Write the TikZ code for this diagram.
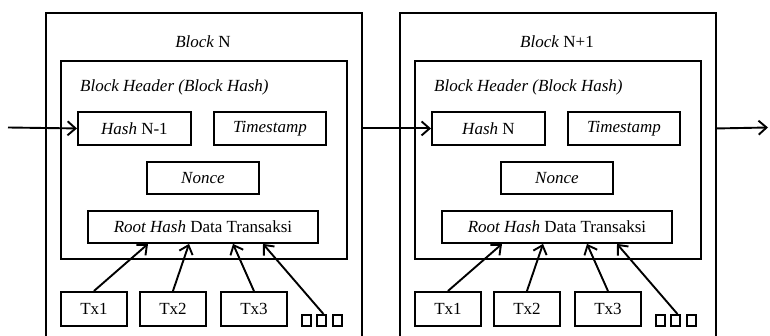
\documentclass[tikz,border=0pt]{standalone}
\usepackage{fontspec}
\setmainfont{Liberation Serif}
\usetikzlibrary{arrows.meta,calc}
\tikzset{
  box/.style={draw, line width=1.9pt, inner sep=0pt, anchor=north west, font=\fontsize{17}{19}\selectfont},
  lbl/.style={inner sep=0pt, font=\fontsize{17}{19}\selectfont},
  arr/.style={line width=1.9pt, -{Straight Barb[length=8pt,width=14pt,line width=1.9pt]}},
  sqbox/.style={draw, line width=1.9pt, minimum width=9pt, minimum height=11pt, inner sep=0pt, anchor=north west},
}
\newcommand\drawchainblock[4]{%
  \begin{scope}[xshift=#2]
    \node[box, minimum width=316, minimum height=340] (#1outer) at (45,12) {};
    \node[lbl] (#1title) at (203,42) {#3};
    \node[box, minimum width=286, minimum height=198] (#1inner) at (60,60) {};
    \node[lbl, anchor=west] (#1hlabel) at (80,87) {\textit{Block Header (Block Hash)}};
    \node[box, minimum width=113, minimum height=33] (#1hash) at (77,111) {#4};
    \node[box, minimum width=112, minimum height=33] (#1time) at (213,111) {\textit{Timestamp}};
    \node[box, minimum width=112, minimum height=32] (#1nonce) at (146,161) {\textit{Nonce}};
    \node[box, minimum width=230, minimum height=32] (#1root) at (87,210) {\textit{Root Hash} Data Transaksi};
    \node[box, minimum width=66, minimum height=34] (#1tx1) at (60,291) {Tx1};
    \node[box, minimum width=66, minimum height=34] (#1tx2) at (139,291) {Tx2};
    \node[box, minimum width=66, minimum height=34] (#1tx3) at (220,291) {Tx3};
    \node[sqbox] (#1sq1) at (301,314) {};
    \node[sqbox] (#1sq2) at (316,314) {};
    \node[sqbox] (#1sq3) at (332,314) {};
    \draw[arr] (#1tx1.north) -- ($(#1root.south west)+(61,0)$);
    \draw[arr] (#1tx2.north) -- ($(#1root.south west)+(102,0)$);
    \draw[arr] (#1tx3.north) -- ($(#1root.south west)+(146,0)$);
    \draw[arr] ($(#1sq2.north)+(2,0)$) -- ($(#1root.south west)+(176,0)$);
  \end{scope}}
\begin{document}
\begin{tikzpicture}[x=1pt,y=-1pt]
  \useasboundingbox (0,0) rectangle (770,336);
  \clip (0,0) rectangle (770,336);
  \fill[white] (0,0) rectangle (770,336);
  \drawchainblock{L}{0}{\textit{Block} N}{\textit{Hash} N-1}
  \drawchainblock{R}{354}{\textit{Block} N+1}{\textit{Hash} N}
  \coordinate (in) at (8,127.5);
  \coordinate (out) at (768,127.5);
  \draw[arr] (in) -- (Lhash.west);
  \draw[arr] (Lhash.west -| Louter.east) -- (Rhash.west);
  \draw[arr] (Rhash.west -| Router.east) -- (out);
\end{tikzpicture}
\end{document}
